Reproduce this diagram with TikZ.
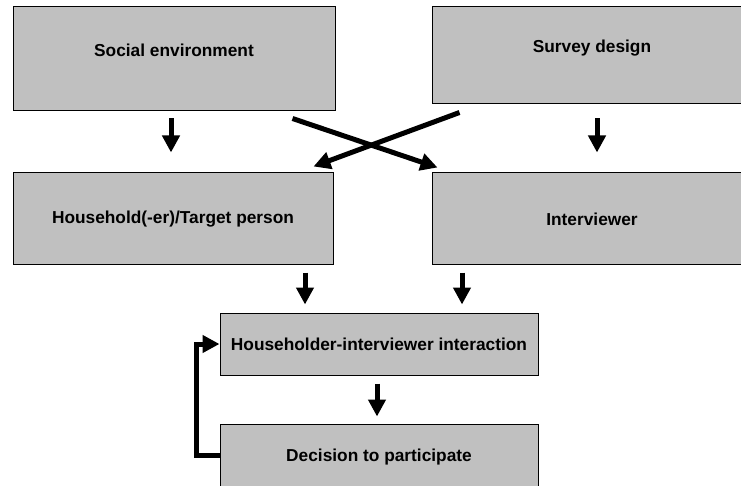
\documentclass[tikz,border=0pt]{standalone}
\usepackage{fontspec}
\setmainfont{Liberation Sans}
\usetikzlibrary{arrows.meta}
\definecolor{boxgray}{RGB}{192,192,192}
\begin{document}
\begin{tikzpicture}[x=1pt,y=-1pt]
\tikzstyle{box}=[draw=black,line width=1pt,fill=boxgray,shape=rectangle,inner sep=0pt,font=\fontsize{17.3}{20}\selectfont\bfseries]
\tikzstyle{flow}=[line width=5pt,-{Triangle[length=17pt,width=17pt]}]
\useasboundingbox (0,0) rectangle (741,486);
\path (174,59) node[box,minimum width=322pt,minimum height=104pt,text depth=18pt](social){Social environment}
(592,55.5) node[box,minimum width=320pt,minimum height=97pt,text depth=18pt](survey){Survey design};
\path (173,219) node[box,minimum width=320pt,minimum height=92pt](household){Household(-er)/Target person}
(592,219) node[box,minimum width=320pt,minimum height=92pt](interviewer){Interviewer};
\path (379,344) node[box,minimum width=318pt,minimum height=62pt](interaction){Householder-interviewer interaction}
(379,457) node[box,minimum width=318pt,minimum height=66pt](decision){Decision to participate};

\draw[flow] ([xshift=-3pt,yshift=-7pt]social.south) -- ([xshift=-2pt,yshift=20pt]household.north);
\draw[flow] ([xshift=5pt,yshift=-14pt]survey.south) -- ([xshift=5pt,yshift=20pt]interviewer.north);
\draw[flow] ([xshift=-43pt,yshift=-7pt]social.south east) -- ([xshift=6pt,yshift=5pt]interviewer.north west);
\draw[flow] ([xshift=28pt,yshift=-8pt]survey.south west) -- ([xshift=-20pt,yshift=6pt]household.north east);
\draw[flow] ([xshift=132pt,yshift=-7pt]household.south) -- ([xshift=-74pt,yshift=8pt]interaction.north);
\draw[flow] ([xshift=-130pt,yshift=-7pt]interviewer.south) -- ([xshift=83pt,yshift=8pt]interaction.north);
\draw[flow] ([xshift=-2pt,yshift=-8pt]interaction.south) -- ([xshift=-2pt,yshift=7pt]decision.north);
\draw[flow] ([yshift=2pt]decision.west) -- ++(-23,0) |- (interaction.west);
\end{tikzpicture}
\end{document}
